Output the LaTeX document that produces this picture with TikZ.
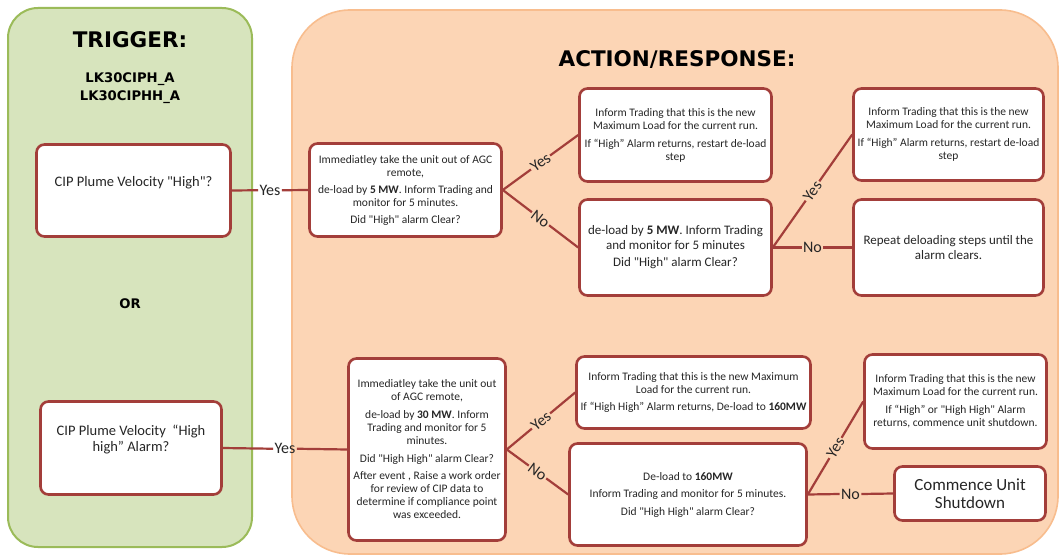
\documentclass[tikz,border=0pt]{standalone}
\usepackage{fontspec}
% body family without the TeX quote mapping, so " stays a straight quote
\newfontfamily\bodyfont{Carlito}
\newfontfamily\headfont{DejaVu Sans}
\definecolor{panelgreen}{HTML}{D7E4BD}
\definecolor{panelgreenedge}{HTML}{9BBB59}
\definecolor{panelorange}{HTML}{FCD5B5}
\definecolor{panelorangeedge}{HTML}{F8BD8E}
\definecolor{boxedge}{HTML}{A33E3A}
\definecolor{ink}{HTML}{262626}
\tikzset{
  panelA/.style={draw=panelgreenedge, fill=panelgreen, line width=2pt, rounded corners=30pt},
  panelB/.style={draw=panelorangeedge, fill=panelorange, line width=1.6pt, rounded corners=58pt},
  box/.style={draw=boxedge, fill=white, line width=2.6pt, rounded corners=8pt,
    inner sep=2pt, align=center, text=ink, font=\bodyfont\fontsize{11.5}{13}\selectfont},
  bigtext/.style={font=\bodyfont\fontsize{13}{14.5}\selectfont},
  trigtext/.style={font=\bodyfont\fontsize{14.5}{16}\selectfont},
  conn/.style={draw=boxedge, line width=2.2pt},
  lbl/.style={text=ink, inner sep=1.2pt, font=\bodyfont\fontsize{16}{18}\selectfont},
  headline/.style={text=black, font=\headfont\bfseries\fontsize{21.5}{24}\selectfont},
  tagline/.style={text=black, align=center, font=\headfont\bfseries\fontsize{13.2}{18}\selectfont},
}
\begin{document}
\begin{tikzpicture}[x=1pt, y=-1pt]
\useasboundingbox (0,0) rectangle (1061,556);
\fill[white] (0,0) rectangle (1061,556);

% background panels
\path[panelA] (8,8) rectangle (252,547);
\path[panelB] (292,10) rectangle (1058,554);

% panel headings
\node[headline] (trigger) at (130,40) {TRIGGER:};
\node[tagline] (tags) at (130,88) {LK30CIPH\_A\\LK30CIPHH\_A};
\node[tagline] (or) at (130,304) {OR};
\node[headline] (action) at (677,60) {ACTION/RESPONSE:};

% trigger boxes
\node[box, trigtext, minimum width=194pt, minimum height=92pt] (t1) at (133.5,190.5)
  {CIP Plume Velocity "High"?\\[3pt]\mbox{}};
\node[box, trigtext, minimum width=181pt, minimum height=93pt] (t2) at (131,448)
  {CIP Plume Velocity \ “High\\high” Alarm?\\[4pt]\mbox{}};

% first alarm path
\node[box, minimum width=192pt, minimum height=93pt] (a1) at (405.5,190)
  {Immediatley take the unit out of AGC\\remote,\\[4pt]
   de-load by \textbf{5 MW}. Inform Trading and\\monitor for 5 minutes.\\[4pt]
   Did "High" alarm Clear?};
\node[box, minimum width=192pt, minimum height=93pt] (b1) at (675.5,135)
  {Inform Trading that this is the new\\Maximum Load for the current run.\\[5pt]
   If “High” Alarm returns, restart de-load\\step};
\node[box, bigtext, minimum width=192pt, minimum height=96pt] (c1) at (675.5,247.5)
  {de-load by \textbf{5 MW}. Inform Trading\\and monitor for 5 minutes\\[3pt]
   Did "High" alarm Clear?};
\node[box, minimum width=190pt, minimum height=92pt] (d1) at (948.5,134.5)
  {Inform Trading that this is the new\\Maximum Load for the current run.\\[5pt]
   If “High” Alarm returns, restart de-load\\step};
\node[box, bigtext, minimum width=190pt, minimum height=96pt] (e1) at (948.5,247.5)
  {Repeat deloading steps until the\\alarm clears.};

% second alarm path
\node[box, minimum width=157pt, minimum height=182pt] (a2) at (427,449.5)
  {Immediatley take the unit out\\of AGC remote,\\[4.5pt]
   de-load by \textbf{30 MW}. Inform\\Trading and monitor for 5\\minutes.\\[5pt]
   Did "High High" alarm Clear?\\[4.5pt]
   After event , Raise a work order\\for review of CIP data to\\determine if compliance point\\was exceeded.};
\node[box, minimum width=234pt, minimum height=72pt] (b2) at (693.5,392.5)
  {Inform Trading that this is the new Maximum\\Load for the current run.\\[4pt]
   If “High High” Alarm returns, De-load to \textbf{160MW}};
\node[box, minimum width=237pt, minimum height=102pt] (c2) at (688,494.5)
  {De-load to \textbf{160MW}\\[4.5pt]
   Inform Trading and monitor for 5 minutes.\\[4.5pt]
   Did "High High" alarm Clear?};
\node[box, minimum width=182pt, minimum height=94pt] (d2) at (955.5,401.5)
  {Inform Trading that this is the new\\Maximum Load for the current run.\\[5pt]
   If “High” or "High High" Alarm\\returns, commence unit shutdown.};
\node[box, font=\bodyfont\fontsize{17}{18.5}\selectfont, minimum width=151pt, minimum height=54pt] (e2) at (970,493.5)
  {Commence Unit\\Shutdown};

% labels on connectors
\path (t1.east) -- node[lbl] (y0) {Yes} (a1.west);
\path (t2.east) -- node[lbl] (y5) {Yes} (a2.west);
\path (a1.east) -- node[lbl, sloped] (y1) {Yes} (b1.west);
\path (a1.east) -- node[lbl, sloped] (n1) {No} (c1.west);
\path (c1.east) -- node[lbl, sloped] (y2) {Yes} (d1.west);
\path (c1.east) -- node[lbl] (n2) {No} (e1.west);
\path (a2.east) -- node[lbl, sloped] (y3) {Yes} (b2.west);
\path (a2.east) -- node[lbl, sloped] (n3) {No} (c2.west);
\path (c2.east) -- node[lbl, sloped] (y4) {Yes} (d2.west);
\path (c2.east) -- node[lbl] (n4) {No} (e2.west);

% connectors, broken around their labels
\draw[conn] (t1.east) -- (y0.west) (y0.east) -- (a1.west);
\draw[conn] (t2.east) -- (y5.west) (y5.east) -- (a2.west);
\draw[conn] (a1.east) -- (y1.west) (y1.east) -- (b1.west);
\draw[conn] (a1.east) -- (n1.west) (n1.east) -- (c1.west);
\draw[conn] (c1.east) -- (y2.west) (y2.east) -- (d1.west);
\draw[conn] (c1.east) -- (n2.west) (n2.east) -- (e1.west);
\draw[conn] (a2.east) -- (y3.west) (y3.east) -- (b2.west);
\draw[conn] (a2.east) -- (n3.west) (n3.east) -- (c2.west);
\draw[conn] (c2.east) -- (y4.west) (y4.east) -- (d2.west);
\draw[conn] (c2.east) -- (n4.west) (n4.east) -- (e2.west);
\end{tikzpicture}
\end{document}
